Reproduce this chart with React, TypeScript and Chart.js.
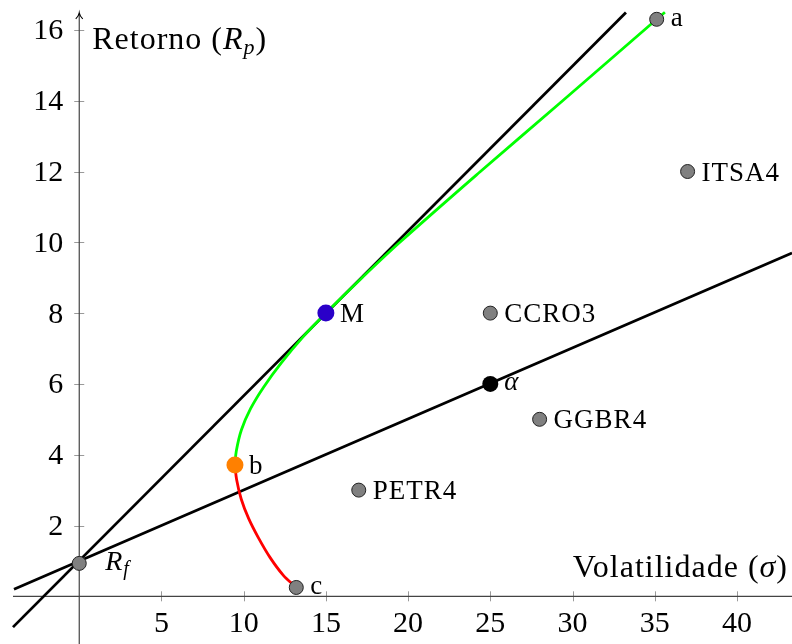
import React, { useEffect, useRef } from "react";
import { Chart, registerables } from "chart.js";

Chart.register(...registerables);

// ---- Data ----
const xTicks = [5, 10, 15, 20, 25, 30, 35, 40];
const yTicks = [2, 4, 6, 8, 10, 12, 14, 16];

// Assets (volatility, return)
const assetNames = ["PETR4", "GGBR4", "CCRO3", "ITSA4"];
const assetSigma = [17, 28, 25, 37];
const assetReturn = [3, 5, 8, 12];

// Special points
const rfPoint = { x: 0, y: 0.93 };
const aPoint = { x: 35.12, y: 16.3 };
const bPoint = { x: 9.47, y: 3.71 };
const cPoint = { x: 13.2, y: 0.25 };
const mPoint = { x: 15, y: 8 };
const alphaPoint = { x: 25, y: 6 };

// Efficient frontier (upper, green)
const upperSigma = [9.47, 9.55, 9.86, 10.42, 11.2, 12.3, 13.65, 15, 17.2, 19.5, 24.4, 29.4, 35.12, 35.62];
const upperReturn = [3.71, 4.1, 4.7, 5.3, 5.9, 6.6, 7.35, 8, 9, 10, 12, 14, 16.3, 16.5];

// Lower (red) part of the frontier
const lowerSigma = [9.47, 9.57, 9.85, 10.3, 10.9, 11.6, 12.4, 13.2];
const lowerReturn = [3.71, 3.3, 2.75, 2.2, 1.65, 1.1, 0.6, 0.25];

// Straight lines (end points as seen in the picture)
const lineAlphaSigma = [-3.97, 43.35];
const lineAlphaReturn = [0.2, 9.7];
const lineMSigma = [-4.03, 33.25];
const lineMReturn = [-0.87, 16.49];

// ---- Layout constants ----
const X_MIN = -4.82;
const X_MAX = 43.35;
const Y_MIN = -1.347;
const Y_MAX = 16.845;
const X_AXIS_START = -4.03;
const Y_AXIS_END = 16.48;

const SERIF = '"Liberation Serif", "DejaVu Serif", serif';

const zip = (xs: number[], ys: number[]) => xs.map((x, i) => ({ x, y: ys[i] }));

type Seg = { t: string; size: number; italic?: boolean; dy?: number };

function segWidth(ctx: CanvasRenderingContext2D, segs: Seg[]) {
  let w = 0;
  for (const s of segs) {
    ctx.font = `${s.italic ? "italic " : ""}${s.size}px ${SERIF}`;
    w += ctx.measureText(s.t).width;
  }
  return w;
}

function drawSegs(ctx: CanvasRenderingContext2D, segs: Seg[], x: number, baseline: number) {
  let cx = x;
  ctx.textAlign = "left";
  ctx.textBaseline = "alphabetic";
  for (const s of segs) {
    ctx.font = `${s.italic ? "italic " : ""}${s.size}px ${SERIF}`;
    ctx.fillText(s.t, cx, baseline + (s.dy || 0));
    cx += ctx.measureText(s.t).width;
  }
}

const axesPlugin = {
  id: "texAxes",
  beforeDatasetsDraw(chart: any) {
    const { ctx, chartArea } = chart;
    const xs = chart.scales.x;
    const ys = chart.scales.y;
    const x0 = xs.getPixelForValue(0);
    const y0 = ys.getPixelForValue(0);
    ctx.save();

    // tick marks
    ctx.strokeStyle = "#9a9a9a";
    ctx.lineWidth = 1;
    for (const v of xTicks) {
      const px = Math.round(xs.getPixelForValue(v)) + 0.5;
      ctx.beginPath();
      ctx.moveTo(px, y0 - 5);
      ctx.lineTo(px, y0 + 5);
      ctx.stroke();
    }
    for (const v of yTicks) {
      const py = Math.round(ys.getPixelForValue(v)) + 0.5;
      ctx.beginPath();
      ctx.moveTo(x0 - 5, py);
      ctx.lineTo(x0 + 5, py);
      ctx.stroke();
    }

    // axis lines
    ctx.strokeStyle = "#444";
    ctx.lineWidth = 1.2;
    ctx.beginPath();
    ctx.moveTo(xs.getPixelForValue(X_AXIS_START), y0);
    ctx.lineTo(chartArea.right, y0);
    ctx.stroke();
    const tipY = ys.getPixelForValue(Y_AXIS_END);
    ctx.beginPath();
    ctx.moveTo(x0, chartArea.bottom);
    ctx.lineTo(x0, tipY + 1);
    ctx.stroke();
    // arrow head (TeX style)
    ctx.strokeStyle = "#000";
    ctx.lineWidth = 1.1;
    ctx.beginPath();
    ctx.moveTo(x0 - 3.5, tipY + 6);
    ctx.quadraticCurveTo(x0 - 0.5, tipY + 3, x0, tipY);
    ctx.quadraticCurveTo(x0 + 0.5, tipY + 3, x0 + 3.5, tipY + 6);
    ctx.stroke();

    // tick labels
    ctx.fillStyle = "#000";
    ctx.font = `30px ${SERIF}`;
    ctx.textBaseline = "alphabetic";
    ctx.textAlign = "center";
    for (const v of xTicks) {
      ctx.fillText(String(v), xs.getPixelForValue(v), y0 + 36);
    }
    ctx.textAlign = "right";
    for (const v of yTicks) {
      const m = ctx.measureText(String(v));
      const py = ys.getPixelForValue(v);
      ctx.fillText(String(v), x0 - 16, py + (m.actualBoundingBoxAscent - m.actualBoundingBoxDescent) / 2);
    }

    // axis titles
    (ctx as any).letterSpacing = "1px";
    const ySegs: Seg[] = [
      { t: "Retorno (", size: 32 },
      { t: "R", size: 32, italic: true },
      { t: "p", size: 22, italic: true, dy: 5 },
      { t: ")", size: 32 },
    ];
    drawSegs(ctx, ySegs, x0 + 13, ys.getPixelForValue(16) + 19);

    const xSegs: Seg[] = [
      { t: "Volatilidade (", size: 32 },
      { t: "σ", size: 32, italic: true },
      { t: ")", size: 32 },
    ];
    const w = segWidth(ctx, xSegs);
    drawSegs(ctx, xSegs, chartArea.right - 4 - w, y0 - 19);
    (ctx as any).letterSpacing = "0px";
    ctx.restore();
  },
};

const labelsPlugin = {
  id: "pointLabels",
  afterDatasetsDraw(chart: any) {
    const { ctx } = chart;
    const xs = chart.scales.x;
    const ys = chart.scales.y;
    ctx.save();
    ctx.fillStyle = "#000";
    (ctx as any).letterSpacing = "1px";
    const put = (text: string, p: { x: number; y: number }, italic = false) => {
      ctx.font = `${italic ? "italic " : ""}27px ${SERIF}`;
      ctx.textAlign = "left";
      ctx.textBaseline = "alphabetic";
      const m = ctx.measureText(text);
      const px = xs.getPixelForValue(p.x);
      const py = ys.getPixelForValue(p.y);
      ctx.fillText(text, px + 14, py + (m.actualBoundingBoxAscent - m.actualBoundingBoxDescent) / 2);
    };
    assetNames.forEach((n, i) => put(n, { x: assetSigma[i], y: assetReturn[i] }));
    put("a", aPoint);
    put("b", bPoint);
    put("c", cPoint);
    put("M", mPoint);
    put("α", alphaPoint, true);
    // R_f
    const rx = xs.getPixelForValue(rfPoint.x);
    const ry = ys.getPixelForValue(rfPoint.y);
    drawSegs(
      ctx,
      [
        { t: "R", size: 28, italic: true },
        { t: "f", size: 20, italic: true, dy: 5 },
      ],
      rx + 26,
      ry + 7
    );
    (ctx as any).letterSpacing = "0px";
    ctx.restore();
  },
};

export default function App() {
  const canvasRef = useRef<HTMLCanvasElement | null>(null);

  useEffect(() => {
    const canvas = canvasRef.current;
    if (!canvas) return;
    const lineBase = {
      showLine: true,
      pointRadius: 0,
      pointHoverRadius: 0,
      fill: false,
      borderWidth: 2.8,
    };
    const chart = new Chart(canvas, {
      type: "scatter",
      data: {
        datasets: [
          {
            ...lineBase,
            label: "CML α",
            data: zip(lineAlphaSigma, lineAlphaReturn),
            borderColor: "#000",
            order: 10,
          },
          {
            ...lineBase,
            label: "CML M",
            data: zip(lineMSigma, lineMReturn),
            borderColor: "#000",
            order: 9,
          },
          {
            ...lineBase,
            label: "Fronteira eficiente",
            data: zip(upperSigma, upperReturn),
            borderColor: "#00ff00",
            tension: 0.35,
            order: 8,
          },
          {
            ...lineBase,
            label: "Fronteira inferior",
            data: zip(lowerSigma, lowerReturn),
            borderColor: "#ff0000",
            tension: 0.35,
            order: 7,
          },
          {
            label: "Ativos",
            data: [
              ...zip(assetSigma, assetReturn),
              aPoint,
              cPoint,
              rfPoint,
            ],
            showLine: false,
            pointRadius: 7,
            pointBackgroundColor: "#808080",
            pointBorderColor: "#222",
            pointBorderWidth: 1,
            order: 3,
          },
          {
            label: "M",
            data: [mPoint],
            showLine: false,
            pointRadius: 8.5,
            pointBackgroundColor: "#2a00c8",
            pointBorderColor: "#2a00c8",
            pointBorderWidth: 0,
            order: 2,
          },
          {
            label: "b",
            data: [bPoint],
            showLine: false,
            pointRadius: 8.5,
            pointBackgroundColor: "#ff8000",
            pointBorderColor: "#ff8000",
            pointBorderWidth: 0,
            order: 2,
          },
          {
            label: "α",
            data: [alphaPoint],
            showLine: false,
            pointRadius: 8,
            pointBackgroundColor: "#000",
            pointBorderColor: "#000",
            pointBorderWidth: 0,
            order: 2,
          },
        ],
      },
      options: {
        responsive: false,
        animation: false,
        events: [],
        layout: { padding: 0, autoPadding: false },
        plugins: {
          legend: { display: false },
          tooltip: { enabled: false },
        },
        scales: {
          x: { type: "linear", min: X_MIN, max: X_MAX, display: false },
          y: { type: "linear", min: Y_MIN, max: Y_MAX, display: false },
        },
      },
      plugins: [axesPlugin, labelsPlugin],
    } as any);
    return () => chart.destroy();
  }, []);

  return (
    <div style={{ position: "absolute", left: 0, top: 0, width: 792, height: 644, background: "#fff" }}>
      <canvas ref={canvasRef} width={792} height={644} style={{ display: "block", width: 792, height: 644 }} />
    </div>
  );
}
